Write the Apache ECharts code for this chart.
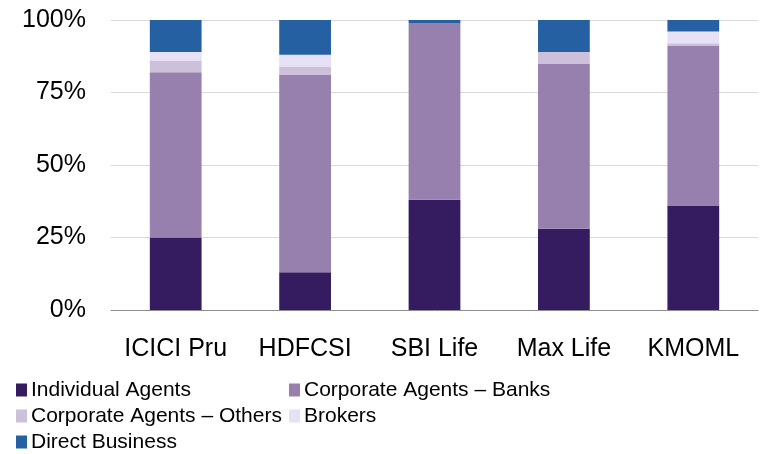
<!DOCTYPE html>
<html>
<head>
<meta charset="utf-8">
<script src="https://cdn.jsdelivr.net/npm/echarts@6/dist/echarts.min.js"></script>
<style>
  html, body { margin: 0; padding: 0; background: #fff; }
  #chart { width: 766px; height: 454px; }
</style>
</head>
<body>
<div id="chart"></div>
<script>
// 公司
const companies = ['ICICI Pru', 'HDFCSI', 'SBI Life', 'Max Life', 'KMOML'];
// 各渠道占比 (%)
const individualAgents = [25, 13, 38, 28, 36];
const banks = [57, 68, 61, 57, 55];
const otherCorporate = [4, 3, 0, 4, 1];
const brokers = [3, 4, 0, 0, 4];
const directBusiness = [11, 12, 1, 11, 4];
const yTicks = [0, 25, 50, 75, 100];

const font = "'Liberation Sans', Arial, sans-serif";

const seriesDefs = [
    {name: 'Individual Agents', data: individualAgents, color: '#351b60'},
    {name: 'Corporate Agents – Banks', data: banks, color: '#9780ad'},
    {name: 'Corporate Agents – Others', data: otherCorporate, color: '#cdc0da'},
    {name: 'Brokers', data: brokers, color: '#e8e0f6'},
    {name: 'Direct Business', data: directBusiness, color: '#2560a3'},
];

const legendBase = {
    orient: 'vertical',
    top: 377,
    height: 78,
    icon: 'rect',
    itemWidth: 11,
    itemHeight: 13,
    itemGap: 0,
    padding: 0,
    textStyle: {
        fontFamily: font,
        fontSize: 21,
        lineHeight: 26,
        color: '#000',
        padding: [0, 0, 0, -1]
    }
};

let option = {
    animation: false,
    grid: {left: 111, right: 8, top: 20, bottom: 144},
    legend: [
        Object.assign({}, legendBase, {
            left: 16,
            data: ['Individual Agents', 'Corporate Agents – Others', 'Direct Business']
        }),
        Object.assign({}, legendBase, {
            left: 289,
            data: ['Corporate Agents – Banks', 'Brokers']
        })
    ],
    xAxis: {
        type: 'category',
        data: companies,
        axisTick: {show: false},
        axisLine: {lineStyle: {color: '#8c8c8c', width: 1}},
        axisLabel: {
            interval: 0,
            color: '#000',
            fontFamily: font,
            fontSize: 25,
            margin: 27
        }
    },
    yAxis: {
        type: 'value',
        min: yTicks[0],
        max: yTicks[yTicks.length - 1],
        interval: yTicks[1] - yTicks[0],
        axisLine: {show: false},
        axisTick: {show: false},
        splitLine: {lineStyle: {color: '#d9d9d9', width: 1}},
        axisLabel: {
            color: '#000',
            fontFamily: font,
            fontSize: 25,
            margin: 25,
            formatter: '{value}%'
        }
    },
    series: seriesDefs.map(s => ({
        name: s.name,
        type: 'bar',
        stack: 'total',
        barWidth: '40%',
        data: s.data,
        itemStyle: {color: s.color}
    }))
};

let chart = echarts.init(document.getElementById('chart'));
chart.setOption(option);
</script>
</body>
</html>
